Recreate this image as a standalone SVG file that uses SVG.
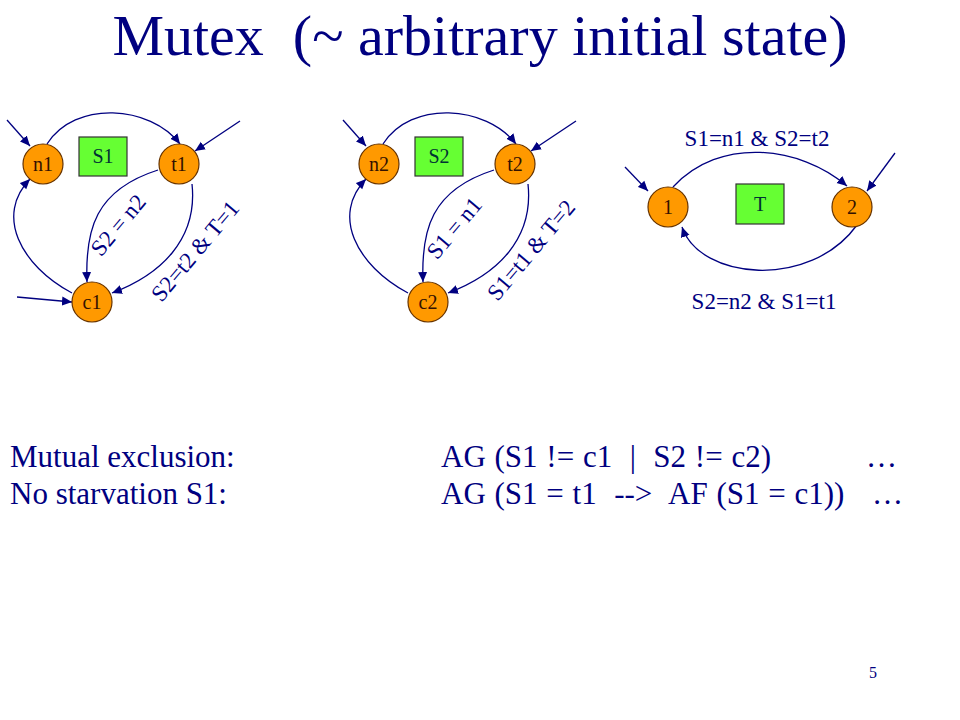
<svg xmlns="http://www.w3.org/2000/svg" width="960" height="720" viewBox="0 0 960 720">
<defs>
<marker id="ah" viewBox="0 0 10 10" refX="10" refY="5" markerWidth="10" markerHeight="10" markerUnits="userSpaceOnUse" orient="auto">
<path d="M0,0.5 L10,5 L0,9.5 z" fill="#000080"/>
</marker>
<style>
.t{font-family:"Liberation Serif","Times New Roman",serif;fill:#000080}
.title{font-size:58px;white-space:pre}
.body{font-size:31px;white-space:pre}
.sp{word-spacing:1px}
.lbl{font-size:23px;white-space:pre}
.node circle{fill:#FF9900;stroke:#663300;stroke-width:1.2}
.node text{font-family:"Liberation Serif","Times New Roman",serif;font-size:20px;fill:#331100;text-anchor:middle}
.box rect{fill:#66FF33;stroke:#333333;stroke-width:1.2}
.box text{font-family:"Liberation Serif","Times New Roman",serif;font-size:20px;fill:#003333;text-anchor:middle}
.e{fill:none;stroke:#000080;stroke-width:1.3;marker-end:url(#ah)}
</style>
</defs>
<rect width="960" height="720" fill="#ffffff"/>
<text class="t title" x="480" y="55" text-anchor="middle">Mutex  (~ arbitrary initial state)</text>

<g id="connectors">
<g id="panel1-edges">
<path class="e" d="M7,120 L30,146"/>
<path class="e" d="M47,144 C75,100 150,105 180,144"/>
<path class="e" d="M240,121 L195,151"/>
<path class="e" d="M158,170 C95,190 85,230 87,282"/>
<path class="e" d="M192,184 C198,240 160,275 112,293"/>
<path class="e" d="M72,293 C20,265 -5,215 30,179"/>
<path class="e" d="M17,297 L72,302"/>
</g>
<g id="panel2-edges" transform="translate(336,0)">
<path class="e" d="M7,120 L30,146"/>
<path class="e" d="M47,144 C75,100 150,105 180,144"/>
<path class="e" d="M240,121 L195,151"/>
<path class="e" d="M158,170 C95,190 85,230 87,282"/>
<path class="e" d="M192,184 C198,240 160,275 112,293"/>
<path class="e" d="M72,293 C20,265 -5,215 30,179"/>
</g>
<g id="panel3-edges">
<path class="e" d="M625,167 L648,191"/>
<path class="e" d="M673,187 C720,136 800,146 847,186"/>
<path class="e" d="M895,153 L867,191"/>
<path class="e" d="M857,225 C810,290 700,280 682,227"/>
</g>
<text class="t lbl" transform="translate(124,230) rotate(-50)" text-anchor="middle">S2 = n2</text>
<text class="t lbl" transform="translate(201,256) rotate(-50)" text-anchor="middle">S2=t2 &amp; T=1</text>
<text class="t lbl" transform="translate(460,233) rotate(-50)" text-anchor="middle">S1 = n1</text>
<text class="t lbl" transform="translate(537,255) rotate(-50)" text-anchor="middle">S1=t1 &amp; T=2</text>
<text class="t lbl" x="757" y="146" text-anchor="middle">S1=n1 &amp; S2=t2</text>
<text class="t lbl" x="764" y="309" text-anchor="middle">S2=n2 &amp; S1=t1</text>
</g>

<g id="n1" class="node"><circle cx="43" cy="164" r="20"/><text x="43" y="171">n1</text></g>
<g id="t1" class="node"><circle cx="179" cy="164" r="20"/><text x="179" y="171">t1</text></g>
<g id="c1" class="node"><circle cx="92" cy="302" r="20"/><text x="92" y="309">c1</text></g>
<g id="S1" class="box"><rect x="79" y="137" width="48" height="39"/><text x="103" y="163">S1</text></g>

<g id="n2" class="node"><circle cx="379" cy="164" r="20"/><text x="379" y="171">n2</text></g>
<g id="t2" class="node"><circle cx="515" cy="164" r="20"/><text x="515" y="171">t2</text></g>
<g id="c2" class="node"><circle cx="428" cy="302" r="20"/><text x="428" y="309">c2</text></g>
<g id="S2" class="box"><rect x="415" y="137" width="48" height="39"/><text x="439" y="163">S2</text></g>

<g id="st1" class="node"><circle cx="668" cy="207" r="20"/><text x="668" y="214">1</text></g>
<g id="st2" class="node"><circle cx="852" cy="207" r="20"/><text x="852" y="214">2</text></g>
<g id="T" class="box"><rect x="736" y="184" width="48" height="40"/><text x="760" y="211">T</text></g>

<g id="properties">
<text class="t body" x="10" y="467">Mutual exclusion:</text>
<text class="t body" x="10" y="504">No starvation S1:</text>
<text class="t body sp" x="441" y="467">AG (S1 != c1  |  S2 != c2)</text>
<text class="t body sp" x="441" y="504">AG (S1 = t1  --&gt;  AF (S1 = c1))</text>
<text class="t body" x="866" y="467">…</text>
<text class="t body" x="872" y="504">…</text>
</g>
<text class="t" x="873" y="678" font-size="16" text-anchor="middle">5</text>
</svg>
